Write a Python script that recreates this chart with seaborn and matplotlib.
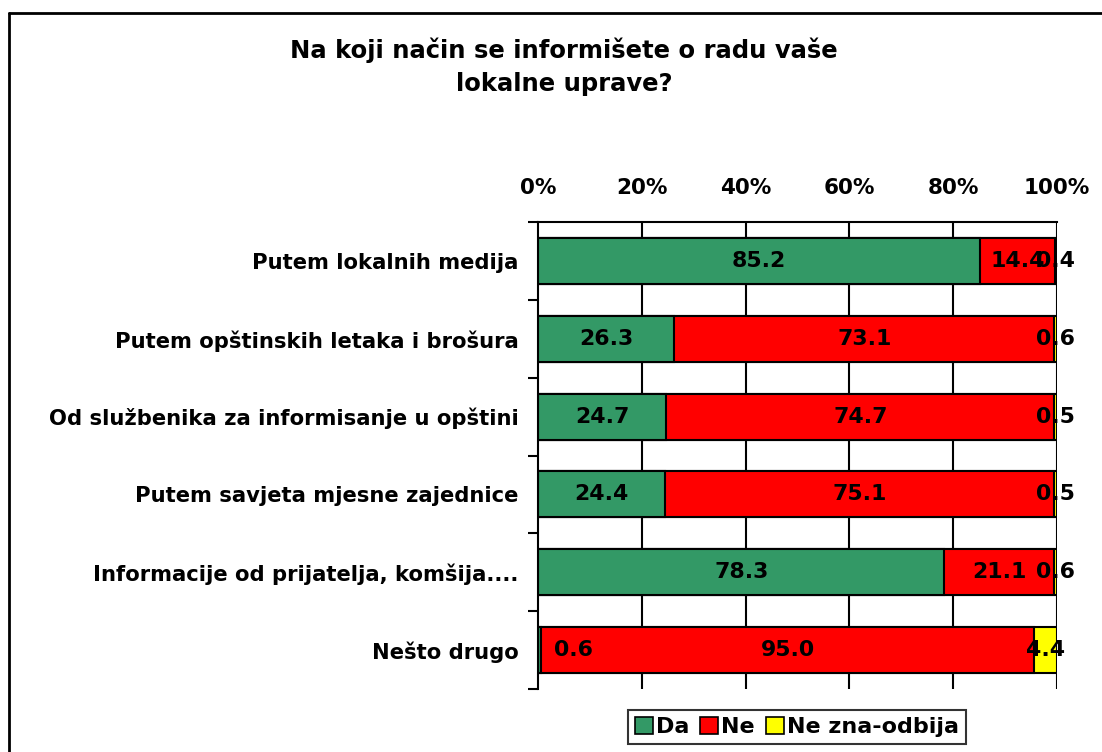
import matplotlib
matplotlib.use("Agg")
import matplotlib.pyplot as plt
import seaborn as sns
import pandas as pd
import numpy as np
from matplotlib.lines import Line2D
from matplotlib.patches import Patch

categories = [
    "Putem lokalnih medija",
    "Putem opštinskih letaka i brošura",
    "Od službenika za informisanje u opštini",
    "Putem savjeta mjesne zajednice",
    "Informacije od prijatelja, komšija....",
    "Nešto drugo",
]
da = [85.2, 26.3, 24.7, 24.4, 78.3, 0.6]
ne = [14.4, 73.1, 74.7, 75.1, 21.1, 95.0]
ne_zna = [0.4, 0.6, 0.5, 0.5, 0.6, 4.4]
series_names = ["Da", "Ne", "Ne zna-odbija"]
colors = ["#339966", "#FF0000", "#FFFF00"]
title = "Na koji način se informišete o radu vaše\nlokalne uprave?"
xticks = [0, 20, 40, 60, 80, 100]

sns.set_theme(style="white")
plt.rcParams["font.family"] = ["DejaVu Sans"]
plt.rcParams["font.weight"] = "bold"
for k in ["text.color", "axes.labelcolor", "xtick.color", "ytick.color"]:
    plt.rcParams[k] = "black"

df = pd.DataFrame({"cat": categories, "Da": da, "Ne": ne, "NeZna": ne_zna})
tot = df["Da"] + df["Ne"] + df["NeZna"]
df["p_da"] = df["Da"] / tot * 100
df["p_ne"] = df["Ne"] / tot * 100
df["p_nz"] = df["NeZna"] / tot * 100
df["c1"] = df["p_da"]
df["c2"] = df["p_da"] + df["p_ne"]
df["c3"] = df["c2"] + df["p_nz"]

W, H = 1102, 752
fig = plt.figure(figsize=(W / 100, H / 100), dpi=100)
ax = fig.add_axes([538 / W, 1 - 689 / H, (1057 - 538) / W, (689 - 222) / H])

for v in xticks[1:]:
    ax.axvline(v, color="black", lw=1.5, zorder=0)

bw = 0.59
for col, c in [("c3", colors[2]), ("c2", colors[1]), ("c1", colors[0])]:
    sns.barplot(data=df, x=col, y="cat", orient="h", color=c, width=bw,
                edgecolor="black", linewidth=1.5, saturation=1, ax=ax, zorder=2)

ax.set_xlim(0, 100)
ax.set_ylim(5.5, -0.5)
ax.set_xlabel("")
ax.set_ylabel("")

fs_lab = 15.2
fs_tick = 15.5
fs_data = 15.8
fs_leg = 16
fs_title = 17.5

for i in range(len(categories)):
    starts = [0, df["c1"][i], df["c2"][i]]
    widths = [df["p_da"][i], df["p_ne"][i], df["p_nz"][i]]
    vals = [da[i], ne[i], ne_zna[i]]
    for s, w, v in zip(starts, widths, vals):
        xc = s + w / 2
        xc = max(xc, 6.8)
        ax.text(xc, i, f"{v:.1f}", ha="center", va="center", fontsize=fs_data,
                fontweight="bold", color="black", zorder=5, clip_on=False)

ax.xaxis.tick_top()
ax.set_xticks(xticks)
ax.set_xticklabels([f"{t}%" for t in xticks], fontsize=fs_tick, fontweight="bold")
ax.tick_params(axis="x", length=0, pad=17, top=True, bottom=False)
ax.set_yticks(range(len(categories)))
ax.set_yticklabels(categories, fontsize=fs_lab, fontweight="bold")
ax.tick_params(axis="y", which="major", length=0, pad=14)
ax.set_yticks(np.arange(-0.5, 6, 1), minor=True)
ax.tick_params(axis="y", which="minor", length=7, width=1.5, color="black", left=True)

for s in ["bottom", "right"]:
    ax.spines[s].set_visible(False)
for s in ["top", "left"]:
    ax.spines[s].set_color("black")
    ax.spines[s].set_linewidth(1.5)

fig.text(564 / W, 1 - 67 / H, title, ha="center", va="center", fontsize=fs_title,
         fontweight="bold", linespacing=1.5, color="black")

handles = [Patch(facecolor=c, edgecolor="black", linewidth=1.2) for c in colors]
leg = fig.legend(handles, series_names, loc="center", bbox_to_anchor=(797 / W, 1 - 727 / H),
                 ncol=3, frameon=True, fancybox=False, edgecolor="black",
                 prop={"size": fs_leg, "weight": "bold"}, handlelength=0.8, handleheight=0.8,
                 handletextpad=0.15, columnspacing=0.5, borderpad=0.3, borderaxespad=0)
leg.get_frame().set_linewidth(1.5)
for t in leg.get_texts():
    t.set_color("black")

fig.add_artist(Line2D([9 / W, 9 / W], [0, 1 - 13 / H], color="black", lw=2))
fig.add_artist(Line2D([9 / W, 1], [1 - 13 / H, 1 - 13 / H], color="black", lw=2))

fig.savefig("out.png", dpi=100, facecolor="white")
